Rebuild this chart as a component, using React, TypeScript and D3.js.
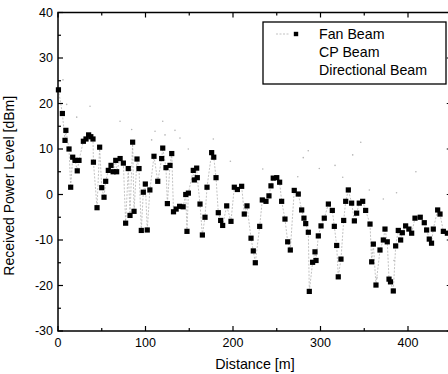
import React from "react";
import * as d3 from "d3";

// Fan Beam measured points: [distance (m), received power (dBm)]
const fanDistance = [0.5, 5, 8, 9, 12.6, 14.5, 16.8, 19.5, 22, 24, 29, 32, 35, 37.5, 40, 40.5, 44.6, 47.6, 50, 52.6, 54.5, 57.5, 60.6, 63, 66, 67, 71, 74.7, 77.3, 80.3, 82.3, 85.3, 86.9, 90.3, 92.6, 95.2, 97.5, 99.8, 102, 105, 109.7, 114, 118.5, 119.7, 123.4, 125, 128, 130, 132, 135, 139, 143, 146, 147.4, 149, 154.6, 155.8, 158.5, 159.2, 162.3, 165, 168, 170.3, 175.6, 178, 180.6, 183.2, 185.9, 188.2, 192.8, 197.7, 201.5, 205, 209.9, 212.9, 216, 220.6, 223.2, 225.5, 230.5, 233.5, 237.7, 241.1, 243.4, 246, 250, 253.3, 255.6, 259.4, 262.5, 265.5, 270, 274.6, 278.5, 281.1, 283.1, 286.1, 287.2, 291, 293.7, 294.9, 297.5, 300.6, 304.3, 309, 313.5, 315.8, 318.5, 320.3, 323.4, 326.5, 328.8, 331.8, 335.6, 338.7, 341.3, 344.3, 348.2, 351.6, 356.6, 358.5, 360.4, 363.4, 368, 371.8, 373.7, 376.3, 378.3, 380, 383.2, 385.9, 388.9, 391.6, 393.5, 397.3, 401, 404.2, 408, 414, 418.6, 421.3, 424.3, 426.9, 428.9, 433.9, 436.6, 440.4, 445];
const fanPower = [23, 17.8, 11.9, 14.1, 10, 1.6, 8.2, 7.5, 5.2, 7.5, 11.7, 12.2, 13.1, 12.7, 12.2, 7.1, -2.9, 10.4, 1.5, -0.6, 2.9, 5.3, 6.4, 5, 7.5, 5, 7.9, 6.9, -6.3, 5.7, -4.6, 11.5, -3.7, 7.8, 5.7, -7.9, 0.5, 2.3, -7.8, 1, 8.4, 2.9, 7.9, 10.2, 5.9, -2, 6.4, 9, -3.8, -3.2, -2.6, -2.7, 0, -8.1, 0.3, 5.3, 3.2, 5.8, 3.7, -2.1, -8.9, -5, 1.6, 9.2, 8.2, 3.7, -4, -5.7, -6.8, -2.5, -5.9, 1.6, 1.1, 1.8, -4.3, -2.5, -9.6, -12.4, -15, -7, -1.2, -1.5, -0.3, 1.9, 3.6, 3.7, 2.7, -1.5, -5.4, -10.4, -12.2, 0.9, 0.1, -3.4, -5.2, -6.4, -8.3, -21.3, -14.9, -12.6, -14.5, -9.1, -6.9, -5.2, -2.1, -3.5, -7, -11.2, -18.1, -14.2, -5.7, -1.5, 1, -1.9, -5.8, -4.1, -1.9, -1.5, -3.5, -6.5, -14.8, -10.9, -19.9, -12.2, -10, -7.6, -10.4, -18.6, -19.2, -21.2, -11.3, -7.9, -10, -8.4, -6.9, -7.6, -8.5, -5.2, -5, -6.2, -7.8, -9.8, -10.7, -7.6, -3.4, -4.3, -8.1, -8.5];

// CP Beam (faint points)
const cpDistance = [2.3, 5.7, 9.9, 21.4, 36.6, 70.9, 84.2, 107, 110.9, 119.7, 122.3, 133.7, 139.4, 148.9, 177.5, 197, 234, 274, 280.3, 286, 298.6, 316.6, 325.4, 336.8, 346, 409];
const cpPower = [23.5, 25.2, 19.8, 17, 19.4, 16.1, 14.3, 12, 13.9, 16.1, 13.1, 14.1, 12.4, 10, 12.2, 7.3, 5.6, 3.9, 8.1, 9.6, 5.7, 6.4, 3.8, 8.7, 11.5, 5];

// Directional Beam (faint points)
const dirDistance = [355.8, 364.6, 371.8, 384, 386.9];
const dirPower = [1, -18.3, -1, -14.5, 0.4];

const yTicks = [-30, -20, -10, 0, 10, 20, 30, 40];
const xTicks = [0, 100, 200, 300, 400];
const legendLabels = ["Fan Beam", "CP Beam", "Directional Beam"];

const W = 448;
const H = 374;

export default function App() {
  const x = d3.scaleLinear().domain([0, 450]).range([58, 451.75]);
  const y = d3.scaleLinear().domain([-30, 40]).range([331, 12.5]);
  const [x0, x1] = x.range();
  const [yb, yt] = y.range();

  const fan = fanDistance.map((d, i) => [d, fanPower[i]] as [number, number]);
  const cp = cpDistance.map((d, i) => [d, cpPower[i]] as [number, number]);
  const dir = dirDistance.map((d, i) => [d, dirPower[i]] as [number, number]);

  const line = d3
    .line<[number, number]>()
    .x((p) => x(p[0]))
    .y((p) => y(p[1]));

  const yMinor = d3.range(-30, 40.1, 5);
  const xMinor = d3.range(0, 450.1, 50);
  const font = "Arial, 'Liberation Sans', Helvetica, sans-serif";
  const sq = 5.2;

  return (
    <svg
      width={W}
      height={H}
      style={{ position: "absolute", left: 0, top: 0, display: "block", background: "#fff" }}
      fontFamily={font}
    >
      <rect x={0} y={0} width={W} height={H} fill="#fff" />
      {/* connecting line for Fan Beam */}
      <path d={line(fan) || ""} fill="none" stroke="#a8a8a8" strokeWidth={0.7} strokeDasharray="2,1.5" />
      {/* faint series */}
      {cp.map((p, i) => (
        <circle key={"cp" + i} cx={x(p[0])} cy={y(p[1])} r={0.8} fill="#b5b5b5" />
      ))}
      {dir.map((p, i) => (
        <circle key={"dir" + i} cx={x(p[0])} cy={y(p[1])} r={0.8} fill="#b5b5b5" />
      ))}
      {/* Fan Beam squares */}
      {fan.map((p, i) => (
        <rect key={"f" + i} x={x(p[0]) - sq / 2} y={y(p[1]) - sq / 2} width={sq} height={sq} fill="#000" />
      ))}

      {/* frame */}
      <rect x={x0} y={yt} width={x1 - x0} height={yb - yt} fill="none" stroke="#000" strokeWidth={1.5} />
      {/* left & right ticks */}
      {yMinor.map((v) => {
        const major = v % 10 === 0;
        const len = major ? 5 : 3;
        return (
          <g key={"yt" + v}>
            <line x1={x0} x2={x0 + len} y1={y(v)} y2={y(v)} stroke="#000" strokeWidth={1.2} />
            <line x1={x1} x2={x1 - len} y1={y(v)} y2={y(v)} stroke="#000" strokeWidth={1.2} />
          </g>
        );
      })}
      {/* bottom & top ticks */}
      {xMinor.map((v) => {
        const major = v % 100 === 0;
        const len = major ? 5 : 3;
        return (
          <g key={"xt" + v}>
            <line x1={x(v)} x2={x(v)} y1={yb} y2={yb - len} stroke="#000" strokeWidth={1.2} />
            <line x1={x(v)} x2={x(v)} y1={yt} y2={yt + len} stroke="#000" strokeWidth={1.2} />
          </g>
        );
      })}
      {/* tick labels */}
      {yTicks.map((v) => (
        <text key={"yl" + v} x={53} y={y(v) + 4.3} fontSize={12.5} textAnchor="end" fill="#000">
          {v}
        </text>
      ))}
      {xTicks.map((v) => (
        <text key={"xl" + v} x={x(v)} y={347} fontSize={12.5} textAnchor="middle" fill="#000">
          {v}
        </text>
      ))}
      {/* axis titles */}
      <text x={255} y={369} fontSize={14.3} textAnchor="middle" fill="#000">
        Distance [m]
      </text>
      <text
        transform={`translate(14,${(yt + yb) / 2 + 14}) rotate(-90)`}
        fontSize={14}
        textAnchor="middle"
        fill="#000"
      >
        Received Power Level [dBm]
      </text>

      {/* legend */}
      <rect x={263} y={22} width={183} height={62} fill="#fff" stroke="#000" strokeWidth={1.3} />
      <line x1={276} x2={289} y1={34} y2={34} stroke="#a8a8a8" strokeWidth={0.7} strokeDasharray="2,1.5" />
      <rect x={296 - 2.2} y={34 - 2.2} width={4.4} height={4.4} fill="#000" />
      {legendLabels.map((t, i) => (
        <text key={t} x={319} y={39.3 + i * 18} fontSize={14.2} fill="#000">
          {t}
        </text>
      ))}
    </svg>
  );
}
